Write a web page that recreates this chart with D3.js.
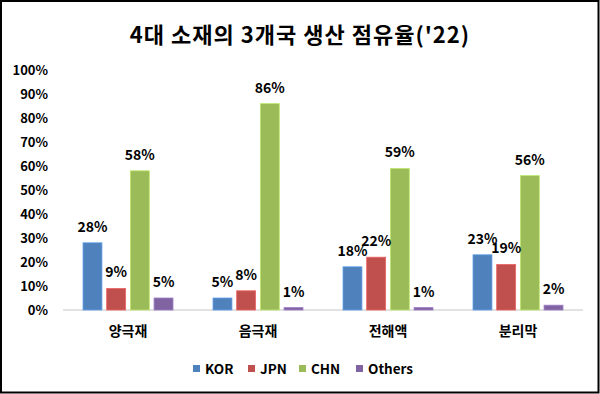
<!DOCTYPE html>
<html>
<head>
<meta charset="utf-8">
<script src="https://cdn.jsdelivr.net/npm/d3@7"></script>
<style>
  body { margin: 0; background: #fff; }
  svg text { font-family: "Noto Sans CJK KR", "Noto Sans", sans-serif; font-weight: bold; fill: #000; }
</style>
</head>
<body>
<div class="vis"></div>
<script>
// data
const categories = ["양극재", "음극재", "전해액", "분리막"];
const series = ["KOR", "JPN", "CHN", "Others"];
const KOR = [28, 5, 18, 23];
const JPN = [9, 8, 22, 19];
const CHN = [58, 86, 59, 56];
const Others = [5, 1, 1, 2];
const yTicks = [0, 10, 20, 30, 40, 50, 60, 70, 80, 90, 100];
const colors = ["#4F81BD", "#C0504D", "#9BBB59", "#8064A2"];
const title = "4대 소재의 3개국 생산 점유율('22)";

const values = { KOR: KOR, JPN: JPN, CHN: CHN, Others: Others };
const rows = categories.map((c, i) => ({
  cat: c,
  vals: series.map(s => ({ key: s, value: values[s][i] }))
}));

const width = 600, height = 394;
const margin = { top: 70, right: 17, bottom: 84, left: 63 };
const innerW = width - margin.left - margin.right;
const innerH = height - margin.top - margin.bottom;

const svg = d3.select(".vis")
  .append("svg")
  .attr("width", width)
  .attr("height", height);

// outer frame
svg.append("rect")
  .attr("x", 1).attr("y", 1)
  .attr("width", width - 2.5).attr("height", height - 2.5)
  .attr("fill", "#fff")
  .attr("stroke", "#000")
  .attr("stroke-width", 2);

svg.append("text")
  .attr("x", width / 2)
  .attr("y", 43)
  .attr("text-anchor", "middle")
  .style("font-size", "22px")
  .style("letter-spacing", "1px")
  .text(title);

const g = svg.append("g")
  .attr("transform", "translate(" + margin.left + "," + margin.top + ")");

const x0 = d3.scaleBand()
  .domain(categories)
  .range([0, innerW])
  .padding(0);

const x1 = d3.scaleBand()
  .domain(series)
  .range([20, x0.bandwidth() - 20])
  .paddingInner(0.2);

const y = d3.scaleLinear()
  .domain([0, 100])
  .range([innerH, 0]);

const color = d3.scaleOrdinal().domain(series).range(colors);

// Y axis (labels only)
const yAxis = g.append("g")
  .call(d3.axisLeft(y).tickValues(yTicks).tickFormat(d => d + "%").tickSize(0).tickPadding(15));
yAxis.select(".domain").remove();
yAxis.selectAll("text").style("font-size", "13px").style("font-family", null);

// baseline
g.append("line")
  .attr("x1", 0).attr("x2", innerW)
  .attr("y1", y(0)).attr("y2", y(0))
  .attr("stroke", "#D9D9D9")
  .attr("stroke-width", 1.5);

// X axis labels
const xAxis = g.append("g")
  .attr("transform", "translate(0," + innerH + ")")
  .call(d3.axisBottom(x0).tickSize(0).tickPadding(16));
xAxis.select(".domain").remove();
xAxis.selectAll("text").style("font-size", "14px").style("font-family", null);

// bars
const groups = g.selectAll(".grp")
  .data(rows)
  .enter()
  .append("g")
  .attr("transform", d => "translate(" + x0(d.cat) + ",0)");

groups.selectAll("rect")
  .data(d => d.vals)
  .enter()
  .append("rect")
  .attr("x", d => x1(d.key))
  .attr("y", d => y(d.value))
  .attr("width", x1.bandwidth())
  .attr("height", d => y(0) - y(d.value))
  .attr("fill", d => color(d.key))
  .attr("stroke", d => d3.color(color(d.key)).brighter(0.6))
  .attr("stroke-width", 0.8);

groups.selectAll(".lbl")
  .data(d => d.vals)
  .enter()
  .append("text")
  .attr("x", d => x1(d.key) + x1.bandwidth() / 2)
  .attr("y", d => y(d.value) - 11)
  .attr("text-anchor", "middle")
  .style("font-size", "14px")
  .text(d => d.value + "%");

// legend
const legendX = [193, 248, 299, 356];
const legend = svg.append("g");
series.forEach((s, i) => {
  legend.append("rect")
    .attr("x", legendX[i]).attr("y", 365)
    .attr("width", 7).attr("height", 7)
    .attr("fill", colors[i]);
  legend.append("text")
    .attr("x", legendX[i] + 12).attr("y", 374)
    .style("font-size", "13.5px")
    .text(s);
});
</script>
</body>
</html>
